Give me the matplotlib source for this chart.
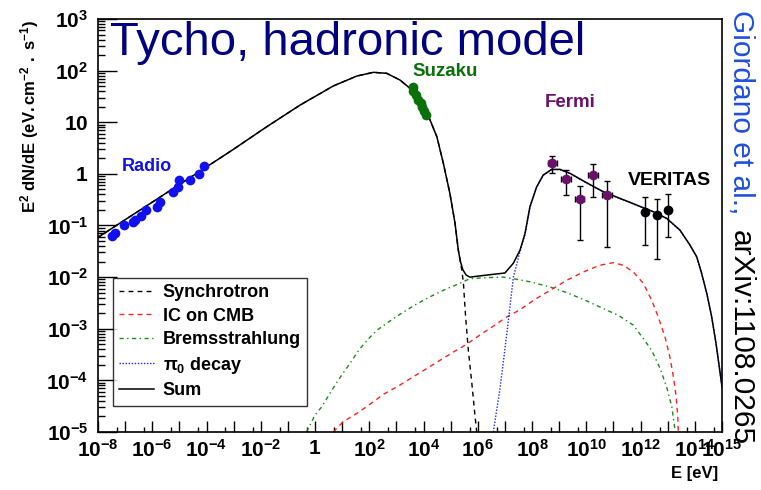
import numpy as np
import matplotlib
matplotlib.use('Agg')
import matplotlib.pyplot as plt
from matplotlib.lines import Line2D
from matplotlib.ticker import FixedLocator, FixedFormatter

plt.rcParams['font.family'] = ['Liberation Sans', 'DejaVu Sans']
plt.rcParams['mathtext.fontset'] = 'custom'
plt.rcParams['mathtext.rm'] = 'Liberation Sans'
plt.rcParams['mathtext.bf'] = 'Liberation Sans:bold'
plt.rcParams['mathtext.it'] = 'Liberation Sans:italic'

# all values are log10(E / eV) and log10(E^2 dN/dE)
radio_loge = [-7.50, -7.37, -7.03, -6.70, -6.64, -6.43, -6.23, -5.84, -5.72,
              -5.25, -5.04, -5.03, -4.61, -4.26, -4.09]
radio_logf = [-1.20, -1.14, -0.99, -0.93, -0.90, -0.81, -0.70, -0.64, -0.55,
              -0.35, -0.26, -0.11, -0.11, -0.01, 0.15]

suzaku_loge = [3.60, 3.62, 3.72, 3.81, 3.89, 3.96, 4.03, 4.09]
suzaku_logf = [1.69, 1.61, 1.53, 1.44, 1.37, 1.30, 1.22, 1.14]

fermi_loge = [8.75, 9.25, 9.75, 10.25, 10.75]
fermi_logf = [0.215, -0.101, -0.494, -0.023, -0.411]
fermi_hi = [0.345, 0.07, -0.23, 0.184, -0.134]
fermi_lo = [0.02, -0.41, -1.28, -0.455, -1.42]
fermi_halfbin = [0.18, 0.18, 0.18, 0.18, 0.18]

veritas_loge = [12.16, 12.59, 13.0]
veritas_logf = [-0.734, -0.798, -0.702]
veritas_hi = [-0.444, -0.494, -0.391]
veritas_lo = [-1.38, -1.657, -1.219]

sync_loge = [-8, -3.99, -3.01, -1.78, -0.55, 0.67, 1.54, 2.15, 2.64, 3.13, 3.5,
             3.87, 4.24, 4.49, 4.73, 4.97, 5.16, 5.28, 5.41, 5.47, 5.55, 5.65,
             5.78, 5.90, 5.96]
sync_logf = [-1.23, 0.138, 0.475, 0.913, 1.333, 1.702, 1.895, 1.967, 1.948,
             1.818, 1.657, 1.366, 1.043, 0.719, 0.203, -0.378, -0.959, -1.477,
             -1.864, -2.122, -2.769, -3.415, -4.06, -4.707, -5.0]

ic_loge = [0.67, 1.04, 1.54, 2.03, 2.52, 3.07, 3.62, 4.12, 4.61, 5.10, 5.59,
           6.08, 6.57, 7.07, 7.56, 8.05, 8.78, 9.28, 9.89, 10.50, 10.99, 11.36,
           11.73, 12.10, 12.41, 12.65, 12.90, 13.08, 13.21, 13.31, 13.37, 13.39]
ic_logf = [-5.0, -4.80, -4.64, -4.46, -4.27, -4.11, -3.93, -3.77, -3.61, -3.45,
           -3.30, -3.12, -2.95, -2.77, -2.63, -2.45, -2.22, -2.06, -1.90, -1.77,
           -1.72, -1.77, -1.90, -2.12, -2.45, -2.77, -3.16, -3.55, -3.93, -4.32,
           -4.71, -5.0]

brems_loge = [-0.31, 0.0, 0.25, 0.55, 0.74, 0.98, 1.29, 1.63, 2.03, 2.33, 2.76,
              3.13, 3.68, 4.24, 4.79, 5.16, 5.71, 6.33, 6.94, 7.31, 7.92, 8.66,
              9.28, 10.01, 10.63, 11.18, 11.73, 12.10, 12.41, 12.72, 12.96,
              13.15, 13.27]
brems_logf = [-5.0, -4.67, -4.51, -4.25, -4.09, -3.90, -3.67, -3.40, -3.16,
              -3.01, -2.85, -2.72, -2.54, -2.38, -2.24, -2.16, -2.03, -2.01,
              -2.0, -2.03, -2.09, -2.19, -2.30, -2.46, -2.61, -2.74, -2.93,
              -3.19, -3.42, -3.77, -4.13, -4.51, -4.97]

pi0_loge = [6.57, 6.82, 7.07, 7.31, 7.53, 7.74, 7.92, 8.17, 8.41, 8.72, 9.03,
            9.40, 10.01, 10.63, 11.24, 11.86, 12.47, 12.96, 13.45, 13.82, 14.07,
            14.25, 14.44, 14.62, 14.78, 14.90, 15.0]
pi0_logf = [-5.0, -4.15, -3.09, -2.0, -1.55, -1.17, -0.645, -0.255, -0.027,
            0.083, 0.083, 0.006, -0.176, -0.351, -0.479, -0.609, -0.738, -0.866,
            -1.093, -1.384, -1.611, -1.932, -2.32, -2.773, -3.289, -3.742, -4.13]

sum_loge = [-8, -3.99, -3.01, -1.78, -0.55, 0.67, 1.54, 2.15, 2.64, 3.13, 3.5,
            3.87, 4.24, 4.49, 4.73, 4.97, 5.16, 5.28, 5.36, 5.45, 5.57, 5.71,
            6.33, 7.0, 7.31, 7.555, 7.74, 7.92, 8.17, 8.41, 8.72, 9.03, 9.40,
            10.01, 10.63, 11.24, 11.86, 12.47, 12.96, 13.45, 13.82, 14.07, 14.25,
            14.44, 14.62, 14.78, 14.90, 15.0]
sum_logf = [-1.23, 0.138, 0.475, 0.913, 1.333, 1.702, 1.895, 1.967, 1.948,
            1.818, 1.657, 1.366, 1.043, 0.719, 0.203, -0.378, -0.959, -1.477,
            -1.70, -1.86, -1.96, -2.0, -1.96, -1.92, -1.73, -1.477, -1.153,
            -0.638, -0.25, -0.023, 0.087, 0.087, 0.010, -0.172, -0.347, -0.475,
            -0.605, -0.734, -0.862, -1.089, -1.380, -1.607, -1.928, -2.316,
            -2.769, -3.285, -3.738, -4.126]

x_tick_labels = {-8: '10^{-8}', -6: '10^{-6}', -4: '10^{-4}', -2: '10^{-2}',
                 0: '1', 2: '10^{2}', 4: '10^{4}', 6: '10^{6}', 8: '10^{8}',
                 10: '10^{10}', 12: '10^{12}', 14: '10^{14}', 15: '10^{15}'}
y_tick_labels = ['10^{-5}', '10^{-4}', '10^{-3}', '10^{-2}', '10^{-1}', '1',
                 '10', '10^{2}', '10^{3}']


def lin(v):
    return 10.0 ** np.asarray(v)


fig = plt.figure(figsize=(7.61, 4.90), dpi=100)
ax = fig.add_axes([98 / 761, 58 / 490, 624 / 761, 413 / 490])
ax.set_xscale('log')
ax.set_yscale('log')

ax.plot(lin(brems_loge), lin(brems_logf), color='#1a8a1a', lw=1.0,
        dashes=(3, 2.5, 1, 2.5))
ax.plot(lin(ic_loge), lin(ic_logf), color='#ff2020', lw=1.0, dashes=(3.5, 3))
ax.plot(lin(pi0_loge), lin(pi0_logf), color='#2020ff', lw=1.0, dashes=(1, 1.2))
ax.plot(lin(sync_loge), lin(sync_logf), color='black', lw=1.0, dashes=(3.5, 3))
ax.plot(lin(sum_loge), lin(sum_logf), color='black', lw=1.1)

ax.plot(lin(radio_loge), lin(radio_logf), 'o', color='#1010f0', ms=7,
        mec='none', zorder=5)
ax.plot(lin(suzaku_loge), lin(suzaku_logf), 'o', color='#0a700a', ms=7,
        mec='none', zorder=5)

fe = lin(fermi_loge)
ff = lin(fermi_logf)
ax.errorbar(fe, ff,
            yerr=[ff - lin(fermi_lo), lin(fermi_hi) - ff],
            xerr=[fe - lin(np.array(fermi_loge) - fermi_halfbin),
                  lin(np.array(fermi_loge) + fermi_halfbin) - fe],
            fmt='o', color='#6a126a', ms=7, mec='none', ecolor='black',
            elinewidth=1, capsize=2.5, capthick=1, zorder=6)
ve = lin(veritas_loge)
vf = lin(veritas_logf)
ax.errorbar(ve, vf, yerr=[vf - lin(veritas_lo), lin(veritas_hi) - vf],
            fmt='o', color='black', ms=7, mec='none', ecolor='black',
            elinewidth=1, capsize=2.5, capthick=1, zorder=6)

ax.set_xlim(1e-8, 1e15)
ax.set_ylim(1e-5, 1e3)

xmaj = list(range(-8, 16))
ax.xaxis.set_major_locator(FixedLocator(lin(xmaj)))
ax.xaxis.set_major_formatter(FixedFormatter(
    [r'$\mathbf{%s}$' % x_tick_labels[e] if e in x_tick_labels else ''
     for e in xmaj]))
ax.xaxis.set_minor_locator(FixedLocator(5 * lin(range(-8, 15))))
ax.yaxis.set_major_locator(FixedLocator(lin(range(-5, 4))))
ax.yaxis.set_major_formatter(FixedFormatter(
    [r'$\mathbf{%s}$' % s for s in y_tick_labels]))
ax.yaxis.set_minor_locator(FixedLocator(
    [m * 10.0 ** d for d in range(-5, 3) for m in range(2, 10)]))

ax.tick_params(axis='x', which='major', direction='in', length=8, width=1,
               top=False, pad=5, labelsize=15)
ax.tick_params(axis='x', which='minor', direction='in', length=3.6, width=1,
               top=False)
ax.tick_params(axis='y', which='major', direction='in', length=14, width=1,
               right=False, pad=7, labelsize=15)
ax.tick_params(axis='y', which='minor', direction='in', length=5, width=1,
               right=False)
for sp in ax.spines.values():
    sp.set_linewidth(1.2)

handles = [
    Line2D([], [], color='black', lw=1.0, dashes=(3.5, 3)),
    Line2D([], [], color='#ff2020', lw=1.0, dashes=(3.5, 3)),
    Line2D([], [], color='#1a8a1a', lw=1.0, dashes=(3, 2.5, 1, 2.5)),
    Line2D([], [], color='#2020ff', lw=1.0, dashes=(1, 1.2)),
    Line2D([], [], color='black', lw=1.1),
]
labels = ['Synchrotron', 'IC on CMB', 'Bremsstrahlung', r'$\mathbf{\pi_0}$ decay', 'Sum']
leg = ax.legend(handles, labels, loc='upper left', bbox_to_anchor=(0.024, 0.373),
                borderaxespad=0, frameon=True, fancybox=False, edgecolor='black',
                prop={'weight': 'bold', 'size': 13}, handlelength=1.9,
                handletextpad=0.5, labelspacing=0.36, borderpad=0.35)
leg.get_frame().set_linewidth(1.0)

ax.text(lin(-7.13), lin(0.15), 'Radio', color='#1010f0', fontsize=13,
        weight='bold', va='center', ha='left')
ax.text(lin(3.61), lin(1.99), 'Suzaku', color='#0a700a', fontsize=13.5,
        weight='bold', va='center', ha='left')
ax.text(lin(8.48), lin(1.39), 'Fermi', color='#6a126a', fontsize=13.5,
        weight='bold', va='center', ha='left')
ax.text(lin(11.54), lin(-0.12), 'VERITAS', color='black', fontsize=14,
        weight='bold', va='center', ha='left')

fig.text(110 / 761, 1 - 55 / 490, 'Tycho, hadronic model', color='#000080',
         fontsize=34, va='baseline', ha='left')
fig.text(30 / 761, 1 - 20 / 490,
         r'$\mathbf{E^{2}\ dN/dE\ (eV.cm^{-2}\ .\ s^{-1})}$',
         rotation=90, va='top', ha='center', fontsize=12)
fig.text(718 / 761, 1 - 473 / 490, 'E [eV]', ha='right', va='center',
         weight='bold', fontsize=12)
fig.text(741 / 761, 1 - 10 / 490, 'Giordano et al.,', rotation=-90,
         va='top', ha='center', color='#2050dd', fontsize=21.5)
fig.text(741 / 761, 1 - 230 / 490, 'arXiv:1108.0265', rotation=-90,
         va='top', ha='center', color='black', fontsize=21.5)

fig.savefig('out.png', dpi=100)
